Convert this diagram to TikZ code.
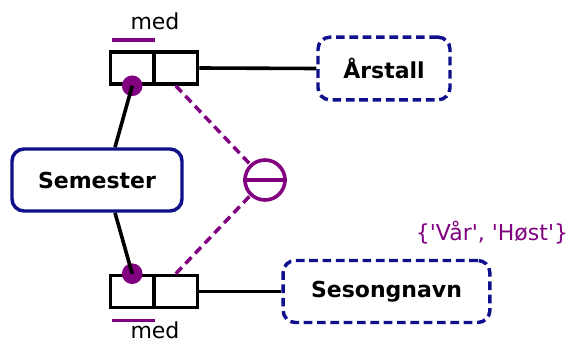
\documentclass[tikz,border=0pt]{standalone}
\usepackage{fontspec}
\setmainfont{DejaVu Sans}
\newfontfamily\valfont{DejaVu Sans}[Ligatures=TeXOff]
\usetikzlibrary{calc}
\definecolor{pur}{RGB}{128,0,128}
\definecolor{navyb}{RGB}{16,16,140}
\begin{document}
\begin{tikzpicture}[x=0.75pt,y=-0.75pt,
  keycell/.style={draw=black,line width=2.7pt,minimum width=32.6pt,minimum height=24pt,inner sep=0pt},
  entity/.style={draw=navyb,line width=2.6pt,rounded corners=9pt,fill=white,font=\fontsize{16.5}{18}\selectfont\bfseries},
  valbox/.style={draw=navyb,line width=2.6pt,rounded corners=9pt,dash pattern=on 6.5pt off 3.5pt,font=\fontsize{16.5}{18}\selectfont\bfseries},
  conn/.style={black,line width=2.7pt},
  dconn/.style={pur,line width=2.6pt,dash pattern=on 6.5pt off 4pt},
  bar/.style={pur,line width=2.7pt},
  dot/.style={circle,fill=pur,minimum size=15.5pt,inner sep=0pt},
  lbl/.style={font=\fontsize{16.5}{18}\selectfont}
]
\useasboundingbox (0,0) rectangle (575,353);
% key boxes
\node[keycell] (lk1) at (132.2,68) {};
\node[keycell] (rk1) at (175.8,68) {};
\node[keycell] (lk2) at (132.2,291.5) {};
\node[keycell] (rk2) at (175.8,291.5) {};
% entities
\node[entity,minimum width=127.5pt,minimum height=46.5pt] (sem) at (97,180) {Semester};
\node[valbox,minimum width=99pt,minimum height=47pt] (aar) at (384,68.5) {Årstall};
\node[valbox,minimum width=155pt,minimum height=46.5pt] (ses) at (386.5,291.5) {Sesongnavn};
% exclusion circle
\node[circle,draw=pur,line width=2.7pt,minimum size=30pt,inner sep=0pt] (ex) at (265,180) {};
\draw[pur,line width=2.7pt] (ex.west) -- (ex.east);
% dots
\node[dot] (d1) at (lk1.south) {};
\node[dot] (d2) at (lk2.north) {};
% connectors
\path (sem.north) ++(18,0) coordinate (s1);
\path (sem.south) ++(18,0) coordinate (s2);
\draw[conn] (s1) -- (d1.center);
\draw[conn] (s2) -- (d2.center);
\draw[conn] (rk1.east) -- (aar.west);
\draw[conn] (rk2.east) -- (ses.west);
\draw[dconn] (rk1.south) -- (ex);
\draw[dconn] (rk2.north) -- (ex);
% med bars
\coordinate (b1a) at ($(lk1.north west)+(3,-10)$);
\coordinate (b1b) at ($(lk1.north east)+(-1,-10)$);
\draw[bar] (b1a) -- (b1b);
\coordinate (b2a) at ($(lk2.south west)+(3,11)$);
\coordinate (b2b) at ($(lk2.south east)+(-1,11)$);
\draw[bar] (b2a) -- (b2b);
\node[lbl] (med1) at (155,21) {med};
\node[lbl] (med2) at (155,330) {med};
\node[lbl,text=pur] (vals) at (492,233) {\valfont\{'Vår', 'Høst'\}};
\end{tikzpicture}
\end{document}
